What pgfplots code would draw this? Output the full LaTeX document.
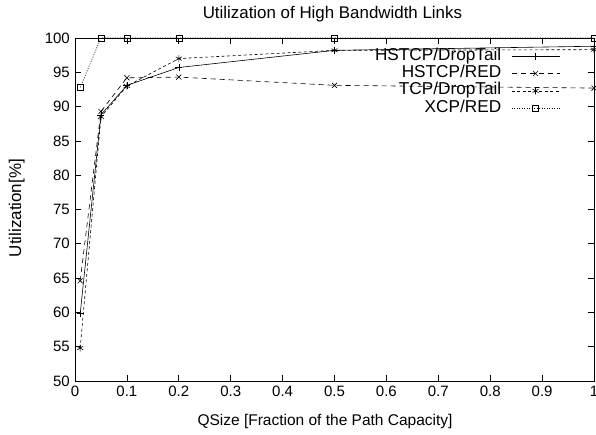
\documentclass[border=0pt]{standalone}
\usepackage{fontspec}
\setmainfont{Liberation Sans}
\usepackage{pgfplots}
\pgfplotsset{compat=1.18}
\begin{document}
\fontsize{15}{18}\selectfont
\begin{tikzpicture}
\path[use as bounding box] (-75pt,-53pt) rectangle (521pt,381pt);
\begin{axis}[
  at={(0pt,0pt)}, anchor=south west,
  scale only axis, width=519pt, height=343pt,
  xmin=0, xmax=1, ymin=50, ymax=100,
  xtick={0,0.1,0.2,0.3,0.4,0.5,0.6,0.7,0.8,0.9,1},
  ytick={50,55,60,65,70,75,80,85,90,95,100},
  xticklabel style={/pgf/number format/fixed,/pgf/number format/precision=1},
  tick label style={font=\fontsize{15}{18}\selectfont},
  /pgf/number format/assume math mode=true,
  tick align=inside, xtick pos=both, ytick pos=both,
  major tick length=6pt,
  axis line style={line width=0.7pt},
  every tick/.style={line width=0.7pt, black},
  clip=false,
  title={Utilization of High Bandwidth Links},
  every axis title/.style={at={(axis description cs:0.496,1.0554)}, anchor=base, font=\fontsize{16.9}{20}\selectfont},
  xlabel={QSize [Fraction of the Path Capacity]},
  every axis x label/.style={at={(axis description cs:0.4817,-0.1283)}, anchor=base, font=\fontsize{15.5}{18}\selectfont},
  ylabel={Utilization[\%]},
  every axis y label/.style={at={(axis description cs:-0.104,0.504)}, anchor=base, rotate=90, font=\fontsize{17}{20}\selectfont},
  legend style={at={(axis description cs:0.9345,0.9723)}, anchor=north east, draw=none, fill=none, inner sep=0pt,
    row sep=0.3pt, column sep=9pt, font=\fontsize{17.2}{20}\selectfont,
    nodes={inner sep=1pt, text height=11.5pt, text depth=3.5pt}},
  legend cell align=right,
  legend plot pos=right,
  legend image code/.code={\draw[mark repeat=2,mark phase=2] plot coordinates {(0pt,0pt)(24pt,0pt)(48pt,0pt)};},
  every axis plot/.append style={line width=0.6pt, black},
]
\addplot[solid, mark=+, mark size=3.5pt, mark options={solid}] coordinates {
  (0.01,59.8)(0.05,88.8)(0.1,93.1)(0.2,95.7)(0.5,98.2)(1,98.8)};
\addlegendentry{HSTCP/DropTail}
\addplot[dash pattern=on 5pt off 4pt, mark=x, mark size=3.5pt, mark options={solid}] coordinates {
  (0.01,64.6)(0.05,89.3)(0.1,94.2)(0.2,94.3)(0.5,93.1)(1,92.7)};
\addlegendentry{HSTCP/RED}
\addplot[dash pattern=on 3pt off 2.5pt, mark=asterisk, mark size=3.5pt, mark options={solid}] coordinates {
  (0.01,54.8)(0.05,88.5)(0.1,93.0)(0.2,97.0)(0.5,98.2)(1,98.3)};
\addlegendentry{TCP/DropTail}
\addplot[dash pattern=on 1pt off 1.5pt, mark=square, mark size=3pt, mark options={solid}] coordinates {
  (0.01,92.8)(0.05,100)(0.1,100)(0.2,100)(0.5,100)(1,100)};
\addlegendentry{XCP/RED}
\end{axis}
\end{tikzpicture}
\end{document}
